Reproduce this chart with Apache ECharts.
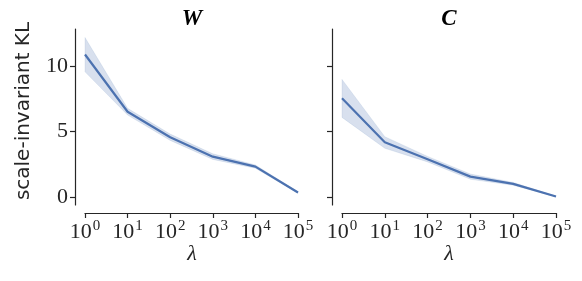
<!DOCTYPE html>
<html><head><meta charset="utf-8">
<script src="https://cdn.jsdelivr.net/npm/echarts@6/dist/echarts.min.js"></script>
<style>html,body{margin:0;padding:0;background:#fff}#c{width:582px;height:281px}</style>
</head><body><div id="c"></div>
<script>
var lambdas = [1, 10, 100, 1000, 10000, 100000];
var wMean  = [10.86, 6.5, 4.56, 3.08, 2.32, 0.35];
var wLow   = [9.54, 6.25, 4.32, 2.87, 2.2, 0.3];
var wHigh  = [12.15, 6.76, 4.8, 3.3, 2.45, 0.4];
var cMean  = [7.52, 4.18, 2.88, 1.56, 1.01, 0.05];
var cLow   = [6.07, 3.72, 2.68, 1.36, 0.9, 0.02];
var cHigh  = [8.96, 4.6, 3.1, 1.76, 1.12, 0.08];
var yTicks = [0, 5, 10];
var titles = ['W', 'C'];

var col = '#4c72b0';
var serif = 'Liberation Serif';
var chart = echarts.init(document.getElementById('c'));

function pairs(ys){ return lambdas.map(function(x,i){ return [x, ys[i]]; }); }

function xAx(idx){
  return {
    type:'log', logBase:10, gridIndex:idx, min:1, max:100000, offset:8,
    axisLine:{show:true, onZero:false, lineStyle:{color:'#262626', width:1.2}},
    axisTick:{show:true, length:5, lineStyle:{color:'#262626', width:1.2}},
    splitLine:{show:false}, minorTick:{show:false},
    axisLabel:{margin:6, color:'#262626',
      formatter:function(v){ return '{b|10}{s|' + Math.round(Math.log10(v)) + '}'; },
      rich:{ b:{fontFamily:serif, fontSize:22, color:'#262626'},
             s:{fontFamily:serif, fontSize:15, color:'#262626', verticalAlign:'top', padding:[0,0,11,1]} } }
  };
}
function yAx(idx, showLabels){
  return {
    type:'value', gridIndex:idx, min:-0.6, max:12.8, offset:10,
    axisLine:{show:true, lineStyle:{color:'#262626', width:1.2}},
    axisTick:{show:true, length:5, lineStyle:{color:'#262626', width:1.2},
      customValues: yTicks},
    splitLine:{show:false},
    axisLabel:{show:showLabels, margin:7, fontFamily:serif, fontSize:22, color:'#262626',
      customValues: yTicks}
  };
}
function band(idx, lo, hi){
  return {
    type:'custom', xAxisIndex:idx, yAxisIndex:idx, silent:true, z:2,
    data: lambdas.map(function(x,i){ return [x, lo[i], hi[i]]; }),
    encode:{x:0, y:[1,2]},
    renderItem:function(params, api){
      if (params.dataIndex !== 0) return null;
      var pts = [];
      for (var i=0;i<lambdas.length;i++) pts.push(api.coord([lambdas[i], hi[i]]));
      for (var j=lambdas.length-1;j>=0;j--) pts.push(api.coord([lambdas[j], lo[j]]));
      return {type:'polygon', shape:{points:pts},
        style:{fill:col, opacity:0.22, stroke:col, lineWidth:0.5}};
    }
  };
}
function meanLine(idx, ys){
  return {type:'line', xAxisIndex:idx, yAxisIndex:idx, data:pairs(ys), symbol:'none',
    lineStyle:{width:2.2, color:col}, z:5};
}

chart.setOption({
  animation:false,
  grid:[{left:85, top:29, width:213, height:176},
        {left:342, top:29, width:214, height:176}],
  xAxis:[xAx(0), xAx(1)],
  yAxis:[yAx(0,true), yAx(1,false)],
  series:[band(0,wLow,wHigh), meanLine(0,wMean), band(1,cLow,cHigh), meanLine(1,cMean)],
  graphic:[
    {type:'text', x:192, y:19, style:{text:titles[0], align:'center', verticalAlign:'middle',
      font:'italic bold 23px "' + serif + '"', fill:'#000'}},
    {type:'text', x:449, y:19, style:{text:titles[1], align:'center', verticalAlign:'middle',
      font:'italic bold 23px "' + serif + '"', fill:'#000'}},
    {type:'text', x:192, y:254, style:{text:'λ', align:'center', verticalAlign:'middle',
      font:'italic 22px "' + serif + '"', fill:'#262626'}},
    {type:'text', x:449, y:254, style:{text:'λ', align:'center', verticalAlign:'middle',
      font:'italic 22px "' + serif + '"', fill:'#262626'}},
    {type:'text', rotation:Math.PI/2, x:24, y:111, style:{text:'scale-invariant KL',
      align:'center', verticalAlign:'middle', font:'20px "DejaVu Sans"', fill:'#262626'}}
  ]
});
</script></body></html>
